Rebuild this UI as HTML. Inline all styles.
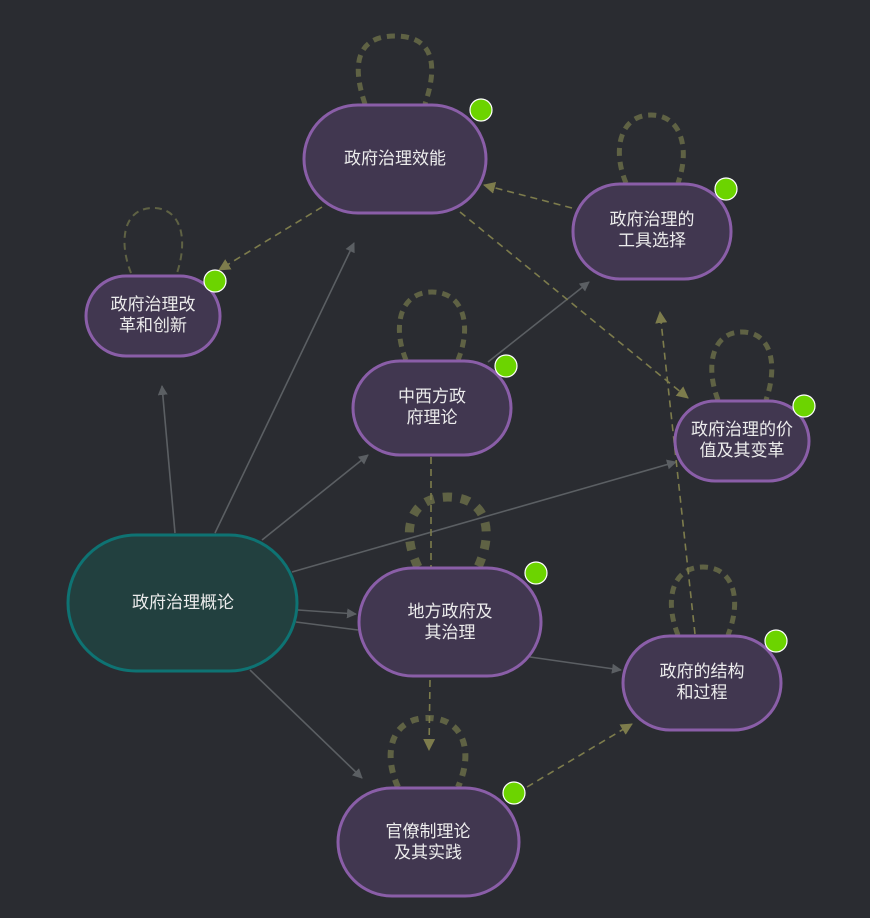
<!DOCTYPE html>
<html><head><meta charset="utf-8"><style>
html,body{margin:0;padding:0;background:#2a2c31;}
svg{display:block}
text{font-family:"Liberation Sans","Noto Sans CJK SC",sans-serif;font-size:17px;fill:#ececec;text-anchor:middle}
</style></head><body>
<svg width="870" height="918" viewBox="0 0 870 918" xmlns="http://www.w3.org/2000/svg">
<defs>
<marker id="ag" markerWidth="10" markerHeight="10" refX="9" refY="5" orient="auto" markerUnits="userSpaceOnUse"><path d="M0,0 L10,5 L0,10z" fill="#5b5f63"/></marker>
<marker id="ao" markerWidth="12" markerHeight="12" refX="11" refY="6" orient="auto" markerUnits="userSpaceOnUse"><path d="M0,0 L12,6 L0,12z" fill="#7d7c4c"/></marker>
</defs>
<rect width="870" height="918" fill="#2a2c31"/>
<!-- loops -->
<g fill="none" stroke="#5f6244">
<path d="M365,104 C350,60 360,36 395,36 C430,36 440,60 425,104" stroke-width="5" stroke-dasharray="8 6"/>
<path d="M131,273 C118,240 124,208 153,208 C182,208 188,240 177,273" stroke-width="2" stroke-dasharray="7 5"/>
<path d="M626,183 C612,150 620,115 651,115 C682,115 690,150 678,183" stroke-width="5" stroke-dasharray="8 6"/>
<path d="M406,360 C392,326 400,292 432,292 C464,292 472,326 458,360" stroke-width="5" stroke-dasharray="8 6"/>
<path d="M718,400 C705,366 712,332 742,332 C772,332 778,366 766,400" stroke-width="5" stroke-dasharray="8 6"/>
<path d="M418,567 C400,530 410,497 448,497 C486,497 495,530 478,567" stroke-width="9" stroke-dasharray="9 9"/>
<path d="M678,635 C664,600 672,567 703,567 C734,567 742,600 728,635" stroke-width="5" stroke-dasharray="8 6"/>
<path d="M398,787 C382,752 392,718 428,718 C464,718 474,752 458,787" stroke-width="6" stroke-dasharray="8 7"/>
</g>
<!-- solid edges -->
<g stroke="#5b5f63" stroke-width="1.6" fill="none">
<line x1="175" y1="533" x2="162" y2="386" marker-end="url(#ag)"/>
<line x1="215" y1="533" x2="354" y2="243" marker-end="url(#ag)"/>
<line x1="262" y1="540" x2="368" y2="455" marker-end="url(#ag)"/>
<line x1="292" y1="572" x2="676" y2="462" marker-end="url(#ag)"/>
<line x1="298" y1="610" x2="356" y2="614" marker-end="url(#ag)"/>
<line x1="296" y1="622" x2="358" y2="630"/>
<line x1="250" y1="670" x2="362" y2="778" marker-end="url(#ag)"/>
<line x1="488" y1="362" x2="589" y2="282" marker-end="url(#ag)"/>
<line x1="530" y1="657" x2="621" y2="670" marker-end="url(#ag)"/>
</g>
<!-- dashed edges -->
<g stroke="#7d7c4c" stroke-width="1.6" fill="none" stroke-dasharray="7 5">
<line x1="322" y1="207" x2="219" y2="270" marker-end="url(#ao)"/>
<line x1="572" y1="208" x2="484" y2="185" marker-end="url(#ao)"/>
<line x1="460" y1="212" x2="688" y2="398" marker-end="url(#ao)"/>
<line x1="695" y1="634" x2="660" y2="312" marker-end="url(#ao)"/>
<line x1="431" y1="457" x2="431" y2="567"/>
<line x1="430" y1="680" x2="429" y2="750" marker-end="url(#ao)"/>
<line x1="527" y1="787" x2="632" y2="724" marker-end="url(#ao)"/>
</g>
<!-- nodes -->
<g fill="#413750" stroke="#8a5ea8" stroke-width="3">
<rect x="304" y="105" width="182" height="108" rx="54"/>
<rect x="573" y="184" width="158" height="95" rx="47"/>
<rect x="86" y="276" width="134" height="80" rx="40"/>
<rect x="353" y="361" width="158" height="94" rx="47"/>
<rect x="675" y="401" width="134" height="80" rx="40"/>
<rect x="359" y="568" width="182" height="108" rx="54"/>
<rect x="623" y="636" width="158" height="94" rx="47"/>
<rect x="338" y="788" width="181" height="108" rx="54"/>
</g>
<rect x="68" y="535" width="229" height="136" rx="68" fill="#22403f" stroke="#0e7373" stroke-width="3"/>
<!-- dots -->
<g fill="#6cd400" stroke="#ffffff" stroke-width="1.2">
<circle cx="481" cy="110" r="11"/><circle cx="726" cy="189" r="11"/>
<circle cx="215" cy="281" r="11"/><circle cx="506" cy="366" r="11"/>
<circle cx="804" cy="406" r="11"/><circle cx="536" cy="573" r="11"/>
<circle cx="776" cy="641" r="11"/><circle cx="514" cy="793" r="11"/>
</g>
<!-- labels -->
<text x="395" y="164">政府治理效能</text>
<text x="652" y="225">政府治理的</text><text x="652" y="246">工具选择</text>
<text x="153" y="310">政府治理改</text><text x="153" y="331">革和创新</text>
<text x="432" y="402">中西方政</text><text x="432" y="423">府理论</text>
<text x="742" y="435">政府治理的价</text><text x="742" y="456">值及其变革</text>
<text x="183" y="608">政府治理概论</text>
<text x="450" y="617">地方政府及</text><text x="450" y="638">其治理</text>
<text x="702" y="677">政府的结构</text><text x="702" y="698">和过程</text>
<text x="428" y="837">官僚制理论</text><text x="428" y="858">及其实践</text>
</svg>
</body></html>
